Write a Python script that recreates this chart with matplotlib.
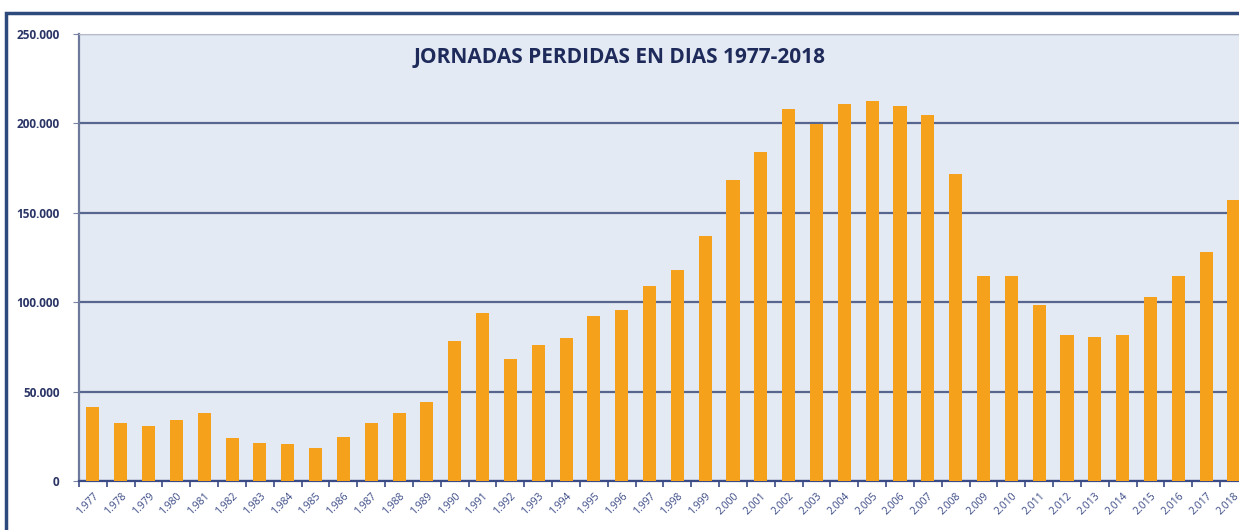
import numpy as np
import matplotlib.pyplot as plt
from matplotlib.patches import Rectangle

# Jornadas perdidas por año
years = list(range(1977, 2019))
days = [41400, 32400, 30700, 34000, 38000, 24000, 21200, 20700, 18500, 24600,
        32400, 38000, 44000, 78300, 94000, 68200, 76000, 80000, 92300, 95600,
        109000, 118000, 137000, 168300, 184000, 208000, 199700, 211000, 212500, 209700,
        204700, 171500, 114600, 114600, 98400, 81700, 80500, 81700, 103000, 114600,
        128000, 157000]
labels = ['{}.{:03d}'.format(y // 1000, y % 1000) for y in years]
yticks = [0, 50000, 100000, 150000, 200000, 250000]
ylabels = ['0', '50.000', '100.000', '150.000', '200.000', '250.000']

plt.rcParams['font.family'] = ['Open Sans', 'DejaVu Sans']
navy = '#2B3566'

fig = plt.figure(figsize=(12.39, 5.30), dpi=100)
fig.patch.set_facecolor('white')
ax = fig.add_axes([79 / 1239, 49 / 530, 1160 / 1239, 447 / 530])
ax.set_facecolor('#E4EAF3')

x = np.arange(len(years))
ax.bar(x, days, width=0.47, color='#F5A11C', zorder=3)

ax.set_ylim(0, 250000)
ax.set_xlim(-0.5, 41.18)
ax.set_yticks(yticks)
ax.set_yticklabels(ylabels, fontsize=8.5, color=navy, fontweight='bold')
ax.yaxis.grid(True, color='#56668E', linewidth=1.6, zorder=1)
ax.tick_params(axis='y', length=4, color='#7A85A3', pad=10)

ax.set_xticks(x)
ax.set_xticklabels(labels, rotation=45, ha='right', rotation_mode='anchor',
                   fontsize=7.5, color='#3A4A85')
ax.set_xticks(np.arange(-0.5, 41.5, 1), minor=True)
ax.tick_params(axis='x', which='major', length=0, pad=7)
ax.tick_params(axis='x', which='minor', length=4, color='#3A4A85', width=1.2)

ax.spines['right'].set_visible(False)
ax.spines['top'].set_color('#B8BCC8')
ax.spines['left'].set_color('#6E7A9C')
ax.spines['left'].set_linewidth(1.6)
ax.spines['bottom'].set_color('#3A4A85')
ax.spines['bottom'].set_linewidth(1.6)

fig.text(620 / 1239, 1 - 58 / 530, 'JORNADAS PERDIDAS EN DIAS 1977-2018',
         ha='center', va='center', fontsize=15, fontweight='bold', color='#1E2A5A',
         zorder=5)

# marco exterior del gráfico
fig.patches.append(Rectangle((6 / 1239, -0.1), 1.2, 1.1 - 13 / 530, transform=fig.transFigure,
                             fill=False, edgecolor='#2E4A7D', linewidth=2.5, clip_on=False))

plt.savefig('out.png', dpi=100)
